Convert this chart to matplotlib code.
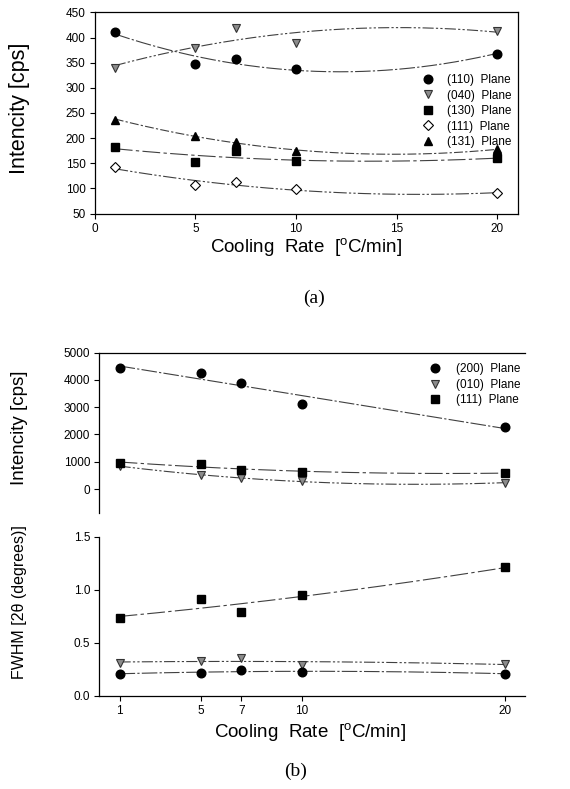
import matplotlib

matplotlib.use("Agg")
import matplotlib.pyplot as plt
import numpy as np

plt.rcParams["font.family"] = ["Liberation Sans", "DejaVu Sans"]
plt.rcParams["mathtext.default"] = "regular"

# cooling rates, degC/min
rate = [1, 5, 7, 10, 20]

# (a) peak intensity, cps
a_110 = [412, 347, 358, 337, 368]
a_040 = [339, 380, 420, 389, 413]
a_130 = [182, 152, 174, 154, 160]
a_111 = [142, 106, 112, 98, 91]
a_131 = [237, 205, 192, 174, 178]

# (b) peak intensity, cps
b_200 = [4420, 4250, 3900, 3120, 2280]
b_010 = [850, 500, 400, 290, 230]
b_111 = [950, 930, 680, 620, 590]

# (b) FWHM, degrees 2-theta
w_200 = [0.21, 0.215, 0.245, 0.225, 0.21]
w_010 = [0.31, 0.33, 0.36, 0.29, 0.30]
w_111 = [0.73, 0.91, 0.79, 0.95, 1.21]

LINE = dict(color="0.25", lw=0.8)
STYLE = {
    "circle": dict(marker="o", color="black", ms=6.2),
    "vgray": dict(marker="v", mfc="0.55", mec="0.2", ms=6.3, mew=0.8),
    "square": dict(marker="s", color="black", ms=5.3),
    "diamond": dict(marker="D", mfc="white", mec="black", ms=5.3, mew=0.8),
    "tri": dict(marker="^", color="black", ms=6.3),
}
LEGEND = dict(loc="upper left", frameon=False, fontsize=8.5, handlelength=1.0,
              labelspacing=0.3, borderpad=0, borderaxespad=0)


def fit_line(ax, y, deg, dashes):
    x = np.array(rate, float)
    coef = np.polyfit(x, y, deg)
    xs = np.linspace(x.min(), x.max(), 200)
    ax.plot(xs, np.polyval(coef, xs), linestyle=dashes, **LINE)


def points(ax, y, kind, label):
    ax.plot(rate, y, linestyle="none", label=label, **STYLE[kind])


def style_axis(ax):
    ax.tick_params(direction="out", length=3.5, width=0.8, labelsize=8.5, pad=3)
    for s in ax.spines.values():
        s.set_linewidth(0.9)


fig = plt.figure(figsize=(5.70, 7.89), dpi=100)

# ---- (a)
ax = fig.add_axes([0.1661, 0.7294, 0.7418, 0.2548])
fit_line(ax, a_110, 2, (0, (14, 2, 2, 2)))
fit_line(ax, a_040, 2, (0, (10, 2, 2, 2, 2, 2)))
fit_line(ax, a_130, 2, (0, (16, 3, 3, 3)))
fit_line(ax, a_111, 2, (0, (12, 2, 2, 2, 2, 2)))
fit_line(ax, a_131, 2, (0, (8, 2, 2, 2)))
points(ax, a_110, "circle", "(110)  Plane")
points(ax, a_040, "vgray", "(040)  Plane")
points(ax, a_130, "square", "(130)  Plane")
points(ax, a_111, "diamond", "(111)  Plane")
points(ax, a_131, "tri", "(131)  Plane")
ax.set_xlim(0, 21); ax.set_ylim(50, 450)
ax.set_xticks([0, 5, 10, 15, 20]); ax.set_yticks(range(50, 451, 50))
style_axis(ax)
ax.legend(bbox_to_anchor=(0.774, 0.694), handletextpad=1.1, **LEGEND)

# ---- (b) intensity
ax1 = fig.add_axes([0.1742, 0.3498, 0.7472, 0.2032])
fit_line(ax1, b_200, 1, (0, (14, 2, 2, 2)))
fit_line(ax1, b_010, 2, (0, (10, 2, 2, 2, 2, 2)))
fit_line(ax1, b_111, 2, (0, (16, 3, 3, 3)))
points(ax1, b_200, "circle", "(200)  Plane")
points(ax1, b_010, "vgray", "(010)  Plane")
points(ax1, b_111, "square", "(111)  Plane")
ax1.set_xlim(0, 21); ax1.set_ylim(-880, 5000)
ax1.set_yticks(range(0, 5001, 1000))
ax1.set_xticks([])
ax1.spines["right"].set_visible(False); ax1.spines["bottom"].set_visible(False)
style_axis(ax1)
ax1.legend(bbox_to_anchor=(0.774, 0.934), handletextpad=1.3, **LEGEND)

# ---- (b) FWHM
ax2 = fig.add_axes([0.1742, 0.1179, 0.7472, 0.2019])
fit_line(ax2, w_111, 2, (0, (16, 3, 3, 3)))
fit_line(ax2, w_010, 2, (0, (10, 2, 2, 2, 2, 2)))
fit_line(ax2, w_200, 2, (0, (14, 2, 2, 2)))
points(ax2, w_111, "square", None)
points(ax2, w_010, "vgray", None)
points(ax2, w_200, "circle", None)
ax2.set_xlim(0, 21); ax2.set_ylim(0, 1.5)
ax2.set_xticks(rate); ax2.set_yticks([0.0, 0.5, 1.0, 1.5])
ax2.yaxis.set_major_formatter(plt.FormatStrFormatter("%.1f"))
ax2.spines["right"].set_visible(False); ax2.spines["top"].set_visible(False)
style_axis(ax2)

xlab = "Cooling  Rate  [$^{o}$C/min]"
ylab = "Intencity [cps]"
fig.text(0.035, 0.8625, ylab, rotation=90, ha="center", va="center", fontsize=15.5)
fig.text(0.537, 0.6873, xlab, ha="center", va="center", fontsize=13.5)
fig.text(0.551, 0.6223, "(a)", ha="center", va="center", fontsize=14, family="Liberation Serif")
fig.text(0.035, 0.4575, ylab, rotation=90, ha="center", va="center", fontsize=13.5)
fig.text(0.035, 0.237, "FWHM [2\u03b8 (degrees)]", rotation=90, ha="center", va="center", fontsize=11.5)
fig.text(0.544, 0.0726, xlab, ha="center", va="center", fontsize=13.5)
fig.text(0.519, 0.0219, "(b)", ha="center", va="center", fontsize=14, family="Liberation Serif")

fig.savefig("out.png", dpi=100)
